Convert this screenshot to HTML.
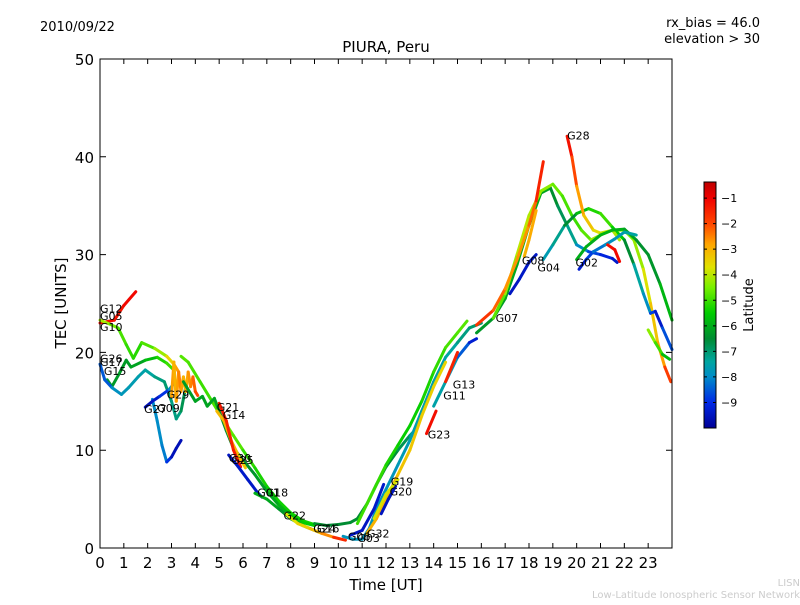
<!DOCTYPE html>
<html><head><meta charset="utf-8"><style>
body{margin:0;background:#fff;}
svg{font-family:"DejaVu Sans","Liberation Sans",sans-serif;}
</style></head><body>
<svg id="c" width="800" height="600" xmlns="http://www.w3.org/2000/svg">
<rect width="800" height="600" fill="#fff"/>
<text x="40" y="31" font-size="13">2010/09/22</text>
<text x="760" y="27" font-size="13" text-anchor="end">rx_bias = 46.0</text>
<text x="760" y="43" font-size="13" text-anchor="end">elevation &gt; 30</text>
<text x="386" y="52" font-size="15" text-anchor="middle">PIURA, Peru</text>
<text x="386" y="590" font-size="15" text-anchor="middle">Time [UT]</text>
<text transform="translate(66,303) rotate(-90)" font-size="15" text-anchor="middle">TEC [UNITS]</text>
<text x="800" y="586" font-size="10" fill="#ccc" text-anchor="end">LISN</text>
<text x="800" y="598" font-size="10" fill="#ccc" text-anchor="end">Low-Latitude Ionospheric Sensor Network</text>
<g id="marks"></g>
<g id="axes"></g>
<text transform="translate(753,305) rotate(-90)" font-size="13" text-anchor="middle">Latitude</text>
</svg>
<script>
const xTicks=[0,1,2,3,4,5,6,7,8,9,10,11,12,13,14,15,16,17,18,19,20,21,22,23];
const yTicks=[0,10,20,30,40,50];
const cbTicks=[-1,-2,-3,-4,-5,-6,-7,-8,-9];
// tracks: [hour, TEC, latitude]
const trG12=[[0,23,-1],[0.6,23.3,-1.3],[1.0,24.8,-1.2],[1.5,26.2,-1]];
const trG10=[[0,23.3,-4],[0.4,22.9,-4.3],[0.76,22.5,-4.8],[1.1,20.8,-5],[1.4,19.4,-5.2],[1.75,21,-5.2],[2.3,20.4,-4.5],[2.8,19.6,-4],[3.1,18.8,-3],[3.3,18,-2.5]];
const trG26=[[0.3,17.2,-6.2],[0.5,16.5,-6.3],[0.8,17.8,-6.3],[1.1,19.2,-6.2],[1.3,18.5,-6.3],[1.9,19.2,-6],[2.4,19.5,-5.5],[2.8,18.9,-5],[3.1,18.2,-5]];
const trG15=[[0,18.8,-8],[0.2,17.2,-9],[0.5,16.4,-8],[0.9,15.7,-7.8],[1.2,16.4,-7.7],[1.6,17.5,-7.6],[1.9,18.2,-7.5],[2.3,17.5,-7.3],[2.7,17.0,-7],[3.0,15.0,-7],[3.2,13.2,-7.3],[3.4,14,-7],[3.6,16.5,-6.5]];
const trG09=[[2.2,15.2,-8],[2.4,13,-8],[2.6,10.5,-8],[2.8,8.8,-8.3],[3.0,9.3,-9.5],[3.2,10.2,-9.6],[3.4,11,-9.6]];
const trG27=[[1.9,14.4,-9.6],[2.2,15,-9.5],[2.5,15.5,-9.3],[2.9,16.2,-8.5],[3.1,16.8,-7.5]];
const trG29=[[3.0,15.5,-3],[3.1,19,-2.5],[3.2,15,-3.5],[3.3,18,-2],[3.4,16,-3],[3.5,17.5,-2.5],[3.6,16,-3.5],[3.7,18,-2.3],[3.8,16.5,-3],[3.9,17.5,-2],[4.0,16,-2.5],[4.1,15.6,-1.5]];
const trG21=[[3.4,19.6,-4.8],[3.7,19,-4.8],[4.2,17,-5],[4.7,15,-5],[5.2,13,-4.8],[5.6,11.5,-4.6],[6.0,10,-5],[6.5,8.2,-5.2],[7,6.3,-5.4],[7.5,4.8,-5.4],[8,3.6,-5.4],[8.5,2.8,-5.4],[9,2.4,-5.3]];
const trG14=[[3.5,17,-6.2],[4,15,-6.3],[4.3,15.5,-6],[4.5,14.5,-6.3],[4.8,15.3,-6],[5.0,14,-6.3],[5.3,12,-6.5],[5.6,10.2,-6.5],[6,9,-6.5],[6.5,7.5,-6.3],[7,5.8,-6.2],[7.5,4.4,-6],[8,3.3,-5.8],[8.5,2.6,-5.5],[9,2.3,-5.5]];
const trG14b=[[4.9,14,-3.2],[5.2,13,-3],[5.5,11,-3],[5.8,9.5,-3.2],[6.1,8.2,-3.5]];
const trG05=[[5.0,14.8,-1.2],[5.3,13,-1.5],[5.6,10,-1.5],[5.9,8.3,-1.2]];
const trG30=[[5.4,9.5,-9.5],[5.8,8.3,-9.4],[6.2,7,-9.3],[6.6,5.7,-9.5],[6.8,5.2,-9.5]];
const trG18=[[6.5,5.6,-6],[7,5,-6],[7.5,4,-6.2],[8,3,-6.5],[8.5,2.3,-6.3],[9,1.8,-6]];
const trG22=[[7.8,3.5,-3.8],[8.3,2.5,-3.6],[8.8,2,-3.3],[9.3,1.5,-3],[9.8,1.1,-2.2],[10.3,0.8,-1]];
const trG16=[[9,2.5,-6.3],[9.5,2.3,-6.5],[10,2.4,-6.5],[10.5,2.6,-6.5],[10.8,3,-6.5],[11.2,4.5,-6.4],[11.6,6.5,-6.4],[12,8.3,-6.5],[12.5,10,-6.6],[13.0,11.5,-7],[13.2,12,-7.2]];
const trG03=[[10.2,1.2,-7.8],[10.6,0.9,-7.8],[11,0.9,-7.8],[11.3,2,-7.8],[11.6,4,-7.8],[12,6,-7.8],[12.5,8.5,-7.8],[13,11,-7.6],[13.5,14,-7.6],[14,17,-7.6],[14.5,19.5,-7.5],[15,21,-7.3],[15.5,22.5,-7],[16,23,-7]];
const trG06=[[10.5,1.3,-9.5],[11,1.8,-9.5],[11.5,4,-9.4],[11.9,6.5,-9.3]];
const trG32=[[11.2,1.5,-3],[11.6,3,-3],[12,5,-3],[12.5,7.5,-3.2],[13,10,-3.3],[13.5,13.5,-3.3],[14,16.5,-3.5],[14.5,19,-3.5]];
const trG19=[[11.8,3.5,-9.5],[12.1,5,-9.5],[12.4,6.3,-9.5]];
const trG20=[[11.5,3,-3.8],[12,5.5,-3.8],[12.5,7,-3.8]];
const trG23=[[13.7,11.7,-1.2],[14.1,14,-1.2]];
const trG17=[[10.8,2.5,-5],[11.2,4.5,-5],[11.5,6,-5],[12,8.5,-5.2],[12.5,10.5,-5.4],[13,12.5,-5.5],[13.5,15,-5.4],[14,18,-5.2],[14.5,20.5,-5],[15,22,-4.8],[15.4,23.2,-4.8]];
const trG11=[[14,14.5,-7.5],[14.5,17,-7.5],[15,19.5,-8],[15.5,21,-9],[15.8,21.4,-9.5]];
const trG13=[[14.5,17,-1.5],[15,20,-1.5]];
const trG07=[[15.8,22,-6.3],[16.5,23.5,-6.3],[17,25.5,-6.2],[17.5,29,-6],[18,33,-6],[18.5,36.3,-6],[18.9,36.8,-6.3],[19.2,35,-6.6],[19.6,33,-7],[20,31,-7.5],[20.5,30.3,-8.5],[21,30,-9],[21.5,29.6,-9.2],[21.7,29.2,-9.5]];
const trG01=[[16.5,23.5,-5],[17,26,-4.5],[17.5,30,-4],[18,34,-4],[18.5,36.5,-4.2],[19,37.2,-4.5],[19.4,36,-4.8],[19.8,34,-5],[20.2,32.5,-5],[20.6,31.5,-4.5],[21,32,-4],[21.5,32.5,-4.5],[22,32.5,-4.5],[22.4,31.5,-4.5],[22.8,28.5,-4],[23.1,25,-3.5],[23.4,21,-3],[23.7,18.5,-2.5],[23.95,17,-1.2]];
const trG08=[[15.8,22.8,-1.5],[16.5,24.3,-2],[17,26.5,-2.5],[17.5,29.5,-2.8],[18,33,-2.5],[18.3,35.5,-2],[18.6,39.5,-1]];
const trG24=[[17.8,29.8,-3],[18,31.5,-3],[18.3,34.5,-2.8]];
const trG25=[[17.2,26,-9.5],[17.6,27.5,-9.4],[18,29.2,-9.4],[18.3,30,-9.4]];
const trG04=[[18.6,29.5,-7.8],[19,31,-7.5],[19.5,33,-7],[20,34.2,-6],[20.5,34.7,-5.5],[21,34.2,-5],[21.5,32.8,-5],[22,31.5,-6],[22.4,29,-7],[22.8,26,-7.8],[23.1,24,-8],[23.3,24.2,-9.5],[23.6,22.5,-9.2],[24,20.3,-8]];
const trG28=[[19.6,42.1,-1],[19.8,40,-1.5],[20,37,-2.5],[20.3,34,-3],[20.7,32.5,-3.5],[21,32.2,-3.8],[21.5,32.5,-4],[21.8,31.5,-4.2]];
const trG02=[[20,29.5,-6],[20.4,30.8,-6],[21,32,-6],[21.5,32.5,-5.8],[22,32.6,-6],[22.5,31.5,-6.3],[23,30,-6.5],[23.5,27,-6.2],[24,23.3,-5.5]];
const trG02b=[[20.1,28.5,-9.5],[20.4,29.5,-9],[20.7,30.3,-8.5],[21.2,31,-8],[21.6,31.6,-7.8],[22,32.3,-7.6],[22.5,32,-7.3]];
const trG31=[[21.3,31,-1.2],[21.6,30.5,-1.2],[21.8,29.3,-1]];
const trG12b=[[23,22.3,-4.2],[23.3,21,-4.5],[23.6,19.8,-5.5],[23.9,19.3,-6]];
const tracks=[trG12,trG10,trG26,trG15,trG09,trG27,trG29,trG21,trG14,trG14b,trG05,trG30,trG18,trG22,trG16,trG03,trG06,trG32,trG19,trG20,trG23,trG17,trG11,trG13,trG07,trG01,trG08,trG24,trG25,trG04,trG28,trG02,trG02b,trG31,trG12b];
const labelNames=["G12","G05","G10","G26","G17","G15","G29","G27","G09","G21","G14","G30","G25","G01","G18","G22","G24","G16","G06","G03","G32","G19","G20","G23","G11","G13","G07","G08","G04","G02","G28"];
const labelX=[0,0,0,0,0,0.16,2.8,1.85,2.4,4.9,5.15,5.4,5.5,6.6,6.95,7.7,8.95,9.1,10.4,10.8,11.2,12.2,12.15,13.75,14.4,14.8,16.6,17.7,18.35,19.95,19.6];
const labelY=[24.5,23.7,22.6,19.4,19.0,18.1,15.7,14.2,14.3,14.4,13.6,9.2,9.0,5.7,5.7,3.3,2.0,2.0,1.2,1.0,1.5,6.8,5.8,11.6,15.6,16.7,23.5,29.4,28.7,29.2,42.2];

const L=100,R=672,T=59,B=548;
const xs=h=>L+h*(R-L)/24;
const ys=v=>B-v*(B-T)/50;
const cbTop=182,cbBot=428,latMax=-0.37,latMin=-10;
const ylat=l=>cbTop+(latMax-l)*(cbBot-cbTop)/(latMax-latMin);
const stops=[[-10,[0,0,150]],[-9,[0,40,230]],[-8,[0,140,200]],[-7.4,[0,165,160]],[-6.5,[0,140,50]],[-5.5,[0,205,0]],[-4.5,[120,240,0]],[-3.7,[225,225,0]],[-2.8,[255,165,0]],[-2,[255,70,0]],[-1,[240,0,0]],[-0.37,[190,0,0]]];
function col(l){
  if(l<=stops[0][0])return 'rgb('+stops[0][1]+')';
  for(let i=1;i<stops.length;i++){if(l<=stops[i][0]){const a=stops[i-1],b=stops[i];const t=(l-a[0])/(b[0]-a[0]);return 'rgb('+a[1].map((v,k)=>Math.round(v+(b[1][k]-v)*t)).join(',')+')';}}
  return 'rgb('+stops[stops.length-1][1]+')';
}
const NS='http://www.w3.org/2000/svg';
function mk(tag,at,parent){const e=document.createElementNS(NS,tag);for(const k in at)e.setAttribute(k,at[k]);parent.appendChild(e);return e;}
const marks=document.getElementById('marks'),axes=document.getElementById('axes');
tracks.forEach((tr,ti)=>{
  const g=mk('g',{},marks);
  
  
  for(let i=1;i<tr.length;i++){
    const a=tr[i-1],b=tr[i];
    const s=mk('line',{x1:xs(a[0]),y1:ys(a[1]),x2:xs(b[0]),y2:ys(b[1]),stroke:col((a[2]+b[2])/2),'stroke-width':3,'stroke-linecap':'round'},g);
    
    
  }
});
labelNames.forEach((n,i)=>{
  const t=mk('text',{x:xs(labelX[i]),y:ys(labelY[i])+4,'font-size':11},marks);
  t.textContent=n;
  
  
});
const frame=mk('rect',{x:L,y:T,width:R-L,height:B-T,fill:'none',stroke:'#000','stroke-width':1},axes);


xTicks.forEach(h=>{
  const x=xs(h);
  const tk=mk('path',{d:`M${x},${B}v-5M${x},${T}v5`,stroke:'#000'},axes);
  
  
  const t=mk('text',{x:x,y:B+20,'font-size':15,'text-anchor':'middle'},axes);
  t.textContent=h;
  
  
});
yTicks.forEach(v=>{
  const y=ys(v);
  const tk=mk('path',{d:`M${L},${y}h6M${R},${y}h-6`,stroke:'#000'},axes);
  
  
  const t=mk('text',{x:L-6,y:y+6,'font-size':15,'text-anchor':'end'},axes);
  t.textContent=v;
  
  
});
const cb=mk('g',{},axes);


for(let y=cbTop;y<cbBot;y++){
  const l=latMax-(y+0.5-cbTop)*(latMax-latMin)/(cbBot-cbTop);
  mk('rect',{x:704,y:y,width:12,height:1.2,fill:col(l)},cb);
}
mk('rect',{x:704,y:cbTop,width:12,height:cbBot-cbTop,fill:'none',stroke:'#000','stroke-width':1},cb);
cbTicks.forEach(l=>{
  const y=ylat(l);
  mk('path',{d:`M704,${y}h3M716,${y}h-3`,stroke:'#000'},cb);
  const t=mk('text',{x:721,y:y+4,'font-size':11},cb);
  t.textContent='\u2212'+Math.abs(l);
  
  
});
</script>
</body></html>
